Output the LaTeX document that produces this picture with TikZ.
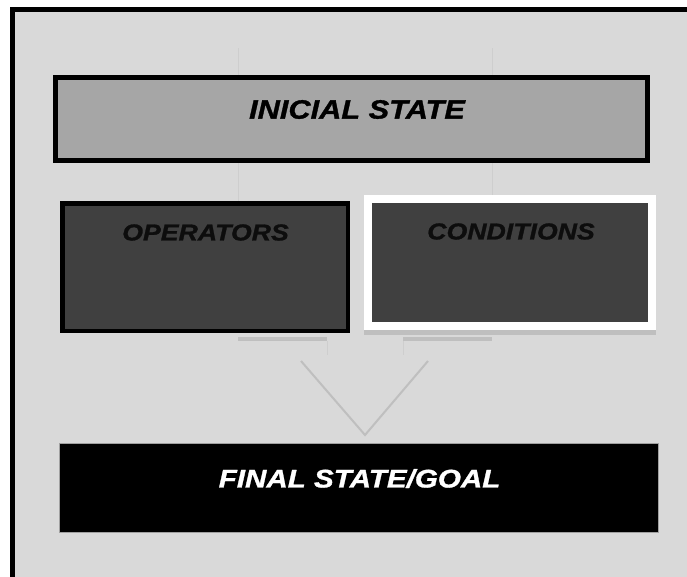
\documentclass[tikz,border=0pt]{standalone}
\usepackage{fontspec}
\usepackage{tikz}
\usetikzlibrary{positioning}
\newfontfamily\boxfont[FakeStretch=1.16,FakeBold=1.2]{Liberation Sans Bold Italic}
\definecolor{framebg}{RGB}{217, 217, 217}
\definecolor{initcolor}{RGB}{166, 166, 166}
\definecolor{opcolor}{RGB}{64, 64, 64}
\definecolor{barcolor}{RGB}{191, 191, 191}
\definecolor{guidecolor}{RGB}{206, 206, 206}
\definecolor{edgecolor}{RGB}{160, 160, 160}

\begin{document}
\begin{tikzpicture}[x=1pt, y=-1pt,
    statebox/.style={rectangle, draw=black, line width=5pt, fill=initcolor,
                     minimum width=592pt, minimum height=83pt, inner sep=0pt},
    opbox/.style={rectangle, draw=black, line width=4.5pt, fill=opcolor,
                  minimum width=285.5pt, minimum height=127.5pt, inner sep=0pt},
    condbox/.style={rectangle, draw=white, line width=8pt, fill=opcolor,
                    minimum width=284pt, minimum height=127pt, inner sep=0pt},
    goalbox/.style={rectangle, draw=edgecolor, line width=0.8pt, fill=black,
                    minimum width=599pt, minimum height=89pt, inner sep=0pt},
    boxtext/.style={font=\boxfont\fontsize{23}{28}\selectfont, inner sep=0pt},
    vline/.style={draw=barcolor, line width=2pt}
]
\useasboundingbox (0,0) rectangle (687,576);
\clip (0,0) rectangle (687,576);

% Frame
\fill[white] (0,0) rectangle (687,576);
\draw[black, line width=5.5pt, fill=framebg] (12.5,9.5) rectangle (710,600);

% Faint guide lines
\draw[guidecolor, line width=0.6pt] (238,48) -- (238,201);
\draw[guidecolor, line width=0.6pt] (492,48) -- (492,195);
\draw[guidecolor, line width=0.6pt] (327,341) -- (327,355);
\draw[guidecolor, line width=0.6pt] (403,341) -- (403,355);

% Initial state
\node[statebox] (init) at (351.5,119) {};
\node[boxtext, text=black, font=\boxfont\fontsize{26.5}{30}\selectfont] (inittext) at (357,109.5) {INICIAL STATE};

% Operators
\node[opbox] (ops) at (205,267) {};
\node[boxtext, text=black!95] (opstext) at (205.5,232.5) {OPERATORS};

% Conditions
\fill[barcolor] (364,326) rectangle (656,335);
\node[condbox] (cond) at (510,262.5) {};
\node[boxtext, text=black!95] (condtext) at (511,231.5) {CONDITIONS};

% Bars under the boxes
\fill[barcolor] (238,337) rectangle (327,341);
\fill[barcolor] (403,337) rectangle (492,341);

% Merge lines
\coordinate (vleft) at (301,361);
\coordinate (vtip) at (365,435);
\coordinate (vright) at (428,361);
\draw[vline] (vleft) -- (vtip) -- (vright);

% Final state
\node[goalbox] (goal) at (358.5,487.5) {};
\node[boxtext, text=white, font=\boxfont\fontsize{25.5}{30}\selectfont] (goaltext) at (359.5,478.5) {FINAL STATE/GOAL};

\end{tikzpicture}
\end{document}
